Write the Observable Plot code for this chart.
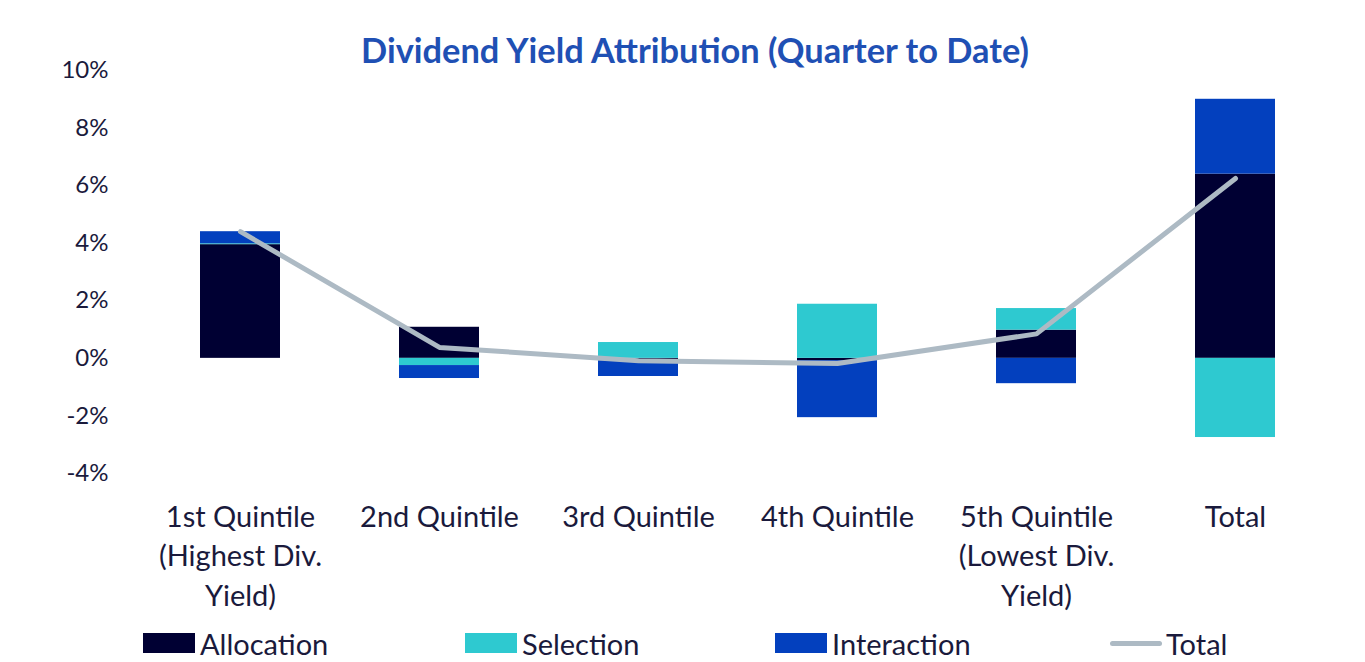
<!DOCTYPE html>
<html>
<head>
<meta charset="utf-8">
<script src="https://cdn.jsdelivr.net/npm/d3@7"></script>
<script src="https://cdn.jsdelivr.net/npm/@observablehq/plot@0.6"></script>
<style>
  body { margin: 0; background: #fff; font-family: Lato, "Open Sans", sans-serif; }
  #wrap { position: relative; width: 1365px; height: 662px; overflow: hidden; }
  #title { position: absolute; top: 28px; left: 0; width: 1390px; text-align: center;
           font-size: 34.4px; font-weight: 700; color: #1f50b4; line-height: 44px; }
  #chart { position: absolute; top: 0; left: 0; }
  #legend { position: absolute; top: 626px; left: 0; width: 1365px; height: 34px; }
  .item { position: absolute; top: 0; display: flex; align-items: center; height: 34px;
          font-size: 29px; color: #1a1a3c; }
  .sw { width: 52px; height: 20px; margin-right: 5px; }
  .ln { width: 52px; height: 5px; border-radius: 3px; margin-right: 4px; }
</style>
</head>
<body>
<div id="wrap">
  <div id="chart"></div>
  <div id="title">Dividend Yield Attribution (Quarter to Date)</div>
  <div id="legend"></div>
</div>
<script>
const categories = ["1st Quintile\n(Highest Div.\nYield)", "2nd Quintile", "3rd Quintile", "4th Quintile", "5th Quintile\n(Lowest Div.\nYield)", "Total"];
const allocation = [3.95, 1.08, -0.08, -0.08, 0.98, 6.4];
const selection  = [0.03, -0.25, 0.55, 1.88, 0.75, -2.75];
const interaction = [0.42, -0.45, -0.55, -1.98, -0.88, 2.6];
const totals = [4.4, 0.38, -0.08, -0.18, 0.85, 6.25];
const yTicks = [-4, -2, 0, 2, 4, 6, 8, 10];
const seriesNames = ["Allocation", "Selection", "Interaction"];
const seriesColors = ["#000033", "#2ec9d0", "#0340be"];
const totalColor = "#adbac4";

const rows = [];
categories.forEach((c, i) => {
  rows.push({cat: c, series: "Allocation", value: allocation[i]});
  rows.push({cat: c, series: "Selection", value: selection[i]});
  rows.push({cat: c, series: "Interaction", value: interaction[i]});
});
const lineData = categories.map((c, i) => ({cat: c, value: totals[i]}));

const chart = Plot.plot({
  width: 1365,
  height: 620,
  marginTop: 70,
  marginBottom: 147,
  marginLeft: 138,
  marginRight: 28,
  style: {fontFamily: "Lato, 'Open Sans', sans-serif", background: "transparent"},
  x: {domain: categories, paddingInner: 0.6, paddingOuter: 0.3, axis: null},
  y: {domain: [-4, 10], ticks: yTicks, axis: null},
  color: {domain: seriesNames, range: seriesColors},
  marks: [
    Plot.axisY({ticks: yTicks, tickFormat: d => d + "%", tickSize: 0, tickPadding: 30,
                fontSize: 24, fill: "#1a1a3c", label: null}),
    Plot.axisX({tickSize: 0, tickPadding: 25, fontSize: 29, lineHeight: 1.37,
                fill: "#1a1a3c", label: null, lineAnchor: "top"}),
    Plot.barY(rows, {x: "cat", y: "value", fill: "series", order: seriesNames}),
    Plot.line(lineData, {x: "cat", y: "value", stroke: totalColor, strokeWidth: 5,
                         strokeLinecap: "round", strokeLinejoin: "round"})
  ]
});
document.getElementById("chart").appendChild(chart);

const legendItems = [
  {name: "Allocation", color: seriesColors[0], left: 143, type: "sw"},
  {name: "Selection", color: seriesColors[1], left: 465, type: "sw"},
  {name: "Interaction", color: seriesColors[2], left: 775, type: "sw"},
  {name: "Total", color: totalColor, left: 1110, type: "ln"}
];
const legend = document.getElementById("legend");
legendItems.forEach(it => {
  const d = document.createElement("div");
  d.className = "item";
  d.style.left = it.left + "px";
  const s = document.createElement("span");
  s.className = it.type;
  s.style.background = it.color;
  d.appendChild(s);
  const t = document.createElement("span");
  t.textContent = it.name;
  d.appendChild(t);
  legend.appendChild(d);
});
</script>
</body>
</html>
